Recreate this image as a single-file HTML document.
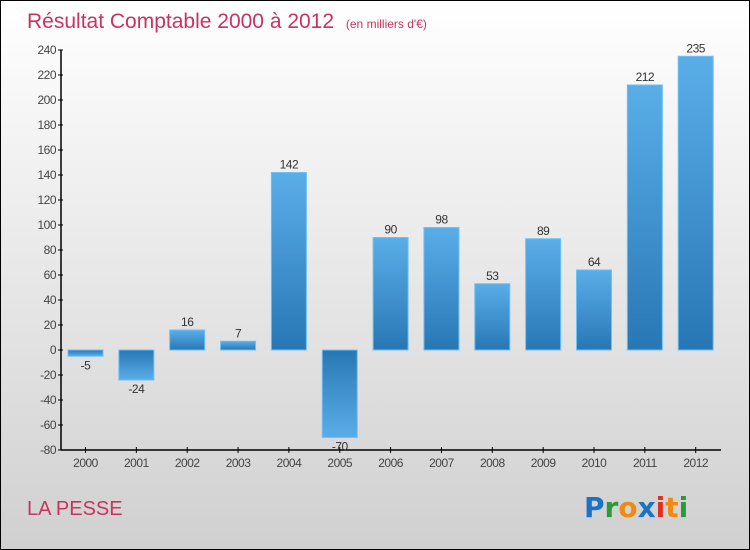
<!DOCTYPE html>
<html><head><meta charset="utf-8"><style>
html,body{margin:0;padding:0}
body{width:750px;height:550px;overflow:hidden;font-family:"Liberation Sans",sans-serif}
#wrap{position:relative;width:748px;height:548px;border:1px solid #000;background:linear-gradient(#ffffff,#d0d0d0)}
</style></head><body>
<div id="wrap">
<svg id="chart" width="748" height="548" style="position:absolute;left:0;top:0">
<defs>
<linearGradient id="gpos" x1="0" y1="0" x2="0" y2="1"><stop offset="0" stop-color="#5aaee8"/><stop offset="1" stop-color="#2877b5"/></linearGradient>
<linearGradient id="gneg" x1="0" y1="1" x2="0" y2="0"><stop offset="0" stop-color="#5aaee8"/><stop offset="1" stop-color="#2877b5"/></linearGradient>
</defs>
<text x="26" y="27" font-size="21" fill="#c8335f">Résultat Comptable 2000 à 2012 <tspan font-size="12" dx="6">(en milliers d'€)</tspan></text>
<text x="26" y="514" font-size="20" fill="#c8335f">LA PESSE</text>
<g font-size="28" font-weight="bold" font-family="'DejaVu Sans',sans-serif">
<text x="583" y="516"><tspan fill="#1a73c8">P</tspan><tspan fill="#2a9a3a">r</tspan><tspan fill="#f08a10">o</tspan><tspan fill="#1a73c8">x</tspan><tspan fill="#e03020">i</tspan><tspan fill="#f08a10">t</tspan><tspan fill="#2a9a3a">i</tspan></text>
</g>
<g id="axes"></g>
<g id="bars"></g>
</svg>
</div>
<script>
const categories=["2000","2001","2002","2003","2004","2005","2006","2007","2008","2009","2010","2011","2012"];
const values=[-5,-24,16,7,142,-70,90,98,53,89,64,212,235];
const yTicks=[-80,-60,-40,-20,0,20,40,60,80,100,120,140,160,180,200,220,240];
const NS="http://www.w3.org/2000/svg";
function y(v){return 349+( -v)*1.25;}
function x(i){return 84.5+i*50.85;}
function mk(tag,attrs,parent){const e=document.createElementNS(NS,tag);for(const k in attrs)e.setAttribute(k,attrs[k]);parent.appendChild(e);return e;}
const ax=document.getElementById('axes'),bg=document.getElementById('bars');
const yl=mk('line',{x1:60,y1:y(240),x2:60,y2:y(-80),stroke:'#000','stroke-width':1.5},ax);


const xl=mk('line',{x1:60,y1:y(-80),x2:720,y2:y(-80),stroke:'#000','stroke-width':1.5},ax);


yTicks.forEach(t=>{
 mk('line',{x1:57,y1:y(t),x2:62,y2:y(t),stroke:'#000'},ax);
 const tx=mk('text',{x:55,y:y(t)+4,'font-size':12,fill:'#444','text-anchor':'end','letter-spacing':'-0.5'},ax);
 tx.textContent=t;
 
 
});
categories.forEach((c,i)=>{
 mk('line',{x1:x(i),y1:y(-80)-3,x2:x(i),y2:y(-80)+3,stroke:'#000'},ax);
 const tx=mk('text',{x:x(i),y:466,'font-size':12,fill:'#444','text-anchor':'middle','letter-spacing':'-0.5'},ax);
 tx.textContent=c;
 
 
 const v=values[i];
 const top=Math.min(y(v),y(0)),h=Math.abs(y(v)-y(0));
 const r=mk('rect',{x:x(i)-17.5,y:top,width:35,height:Math.max(h,1),fill:v>=0?'url(#gpos)':'url(#gneg)',stroke:'#6cc0f5','stroke-width':1},bg);
 
 
 const lb=mk('text',{x:x(i),y:v>=0?top-4:top+h+13,'font-size':12,fill:'#333','text-anchor':'middle','letter-spacing':'-0.5'},bg);
 lb.textContent=v;
 
 
});
</script>
</body></html>
